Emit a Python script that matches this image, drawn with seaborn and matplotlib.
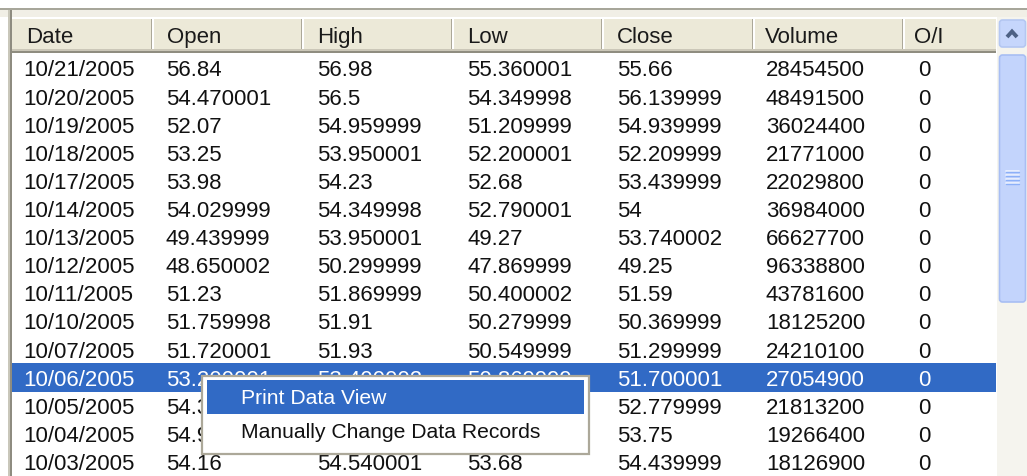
import matplotlib
matplotlib.use("Agg")
import matplotlib.pyplot as plt
from matplotlib.patches import Rectangle, FancyBboxPatch
import seaborn as sns

# ---- data ----
columns = ["Date", "Open", "High", "Low", "Close", "Volume", "O/I"]
dates = ["10/21/2005", "10/20/2005", "10/19/2005", "10/18/2005", "10/17/2005",
         "10/14/2005", "10/13/2005", "10/12/2005", "10/11/2005", "10/10/2005",
         "10/07/2005", "10/06/2005", "10/05/2005", "10/04/2005", "10/03/2005"]
opens = [56.84, 54.470001, 52.07, 53.25, 53.98, 54.029999, 49.439999, 48.650002,
         51.23, 51.759998, 51.720001, 53.200001, 54.389999, 54.959999, 54.16]
highs = [56.98, 56.5, 54.959999, 53.950001, 54.23, 54.349998, 53.950001, 50.299999,
         51.869999, 51.91, 51.93, 53.400002, 54.66, 54.98, 54.540001]
lows = [55.360001, 54.349998, 51.209999, 52.200001, 52.68, 52.790001, 49.27, 47.869999,
        50.400002, 50.279999, 50.549999, 50.869999, 52.68, 53.290001, 53.68]
closes = [55.66, 56.139999, 54.939999, 52.209999, 53.439999, 54, 53.740002, 49.25,
          51.59, 50.369999, 51.299999, 51.700001, 52.779999, 53.75, 54.439999]
volumes = [28454500, 48491500, 36024400, 21771000, 22029800, 36984000, 66627700,
           96338800, 43781600, 18125200, 24210100, 27054900, 21813200, 19266400, 18126900]
open_interest = [0, 0, 0, 0, 0, 0, 0, 0, 0, 0, 0, 0, 0, 0, 0]
selected_row = 11
menu_items = ["Print Data View", "Manually Change Data Records"]

sns.set_theme(style="white")
plt.rcParams["font.family"] = ["Liberation Sans", "DejaVu Sans"]

W, H = 1027, 476
fig = plt.figure(figsize=(W / 100, H / 100), dpi=100)
ax = fig.add_axes([0, 0, 1, 1])
ax.set_xlim(0, W)
ax.set_ylim(H, 0)
ax.axis("off")
fig.patch.set_facecolor("white")

FS = 16
MFS = 15.2
col_x = [23, 166, 317, 467, 617, 766, 918]
head_x = [26, 167, 317, 467, 617, 765, 914]
sep_x = [152, 302, 452, 602, 753, 903]
row0, pitch = 68.0, 28.1
list_right = 996

# top frame
ax.add_patch(Rectangle((0, 8), W, 2, color="#A7A69A", lw=0))
ax.add_patch(Rectangle((0, 10), W, 7, color="#F1EFE6", lw=0))
# left border
ax.add_patch(Rectangle((8, 10), 2, H, color="#C9C7BA", lw=0))
ax.add_patch(Rectangle((10, 10), 2, H, color="#8E8C80", lw=0))

# header
ax.add_patch(Rectangle((12, 17), list_right - 12, 34, color="#ECE9D8", lw=0))
ax.add_patch(Rectangle((12, 17), list_right - 12, 1.5, color="#FFFFFF", lw=0))
ax.add_patch(Rectangle((12, 49), list_right - 12, 1.5, color="#CBC7B8", lw=0))
ax.add_patch(Rectangle((12, 50.5), list_right - 12, 2, color="#8F8D80", lw=0))
for sx in sep_x:
    ax.add_patch(Rectangle((sx - 1.5, 19), 1.5, 30, color="#ACA899", lw=0))
    ax.add_patch(Rectangle((sx, 19), 1.5, 30, color="#FFFFFF", lw=0))
for name, x in zip(columns, head_x):
    ax.text(x, 43, name, fontsize=FS, color="#1A1A1A", va="baseline", ha="left")

# selected row highlight
ycen = row0 + selected_row * pitch
ax.add_patch(Rectangle((12, ycen - 14.5), list_right - 12, 29, color="#316AC5", lw=0))

# rows
for i in range(len(dates)):
    yb = row0 + i * pitch + 8.5
    color = "white" if i == selected_row else "#111111"
    vals = [dates[i], format(opens[i], ".9g"), format(highs[i], ".9g"),
            format(lows[i], ".9g"), format(closes[i], ".9g"),
            str(volumes[i]), str(open_interest[i])]
    for v, x in zip(vals, col_x):
        ax.text(x, yb, v, fontsize=FS, color=color, va="baseline", ha="left", zorder=3)

# scrollbar
ax.add_patch(Rectangle((997, 17), W - 997, H, color="#F5F4EE", lw=0, zorder=4))
ax.add_patch(FancyBboxPatch((999.5, 20), 26, 27, boxstyle="round,pad=0,rounding_size=3",
                            fc="#C6D6FC", ec="#B4C7F2", lw=1.2, zorder=5))
ax.plot([1007, 1012, 1017], [37, 31.5, 37], color="#4D6185", lw=2.8,
        solid_capstyle="butt", solid_joinstyle="miter", zorder=6)
ax.add_patch(FancyBboxPatch((999.5, 55), 26, 247, boxstyle="round,pad=0,rounding_size=3",
                            fc="#C3D4FC", ec="#A8BEF3", lw=1.2, zorder=5))
for gy in [171, 175, 179, 183]:
    ax.plot([1006, 1019], [gy, gy], color="#EEF3FF", lw=1.2, zorder=6)
    ax.plot([1006, 1019], [gy + 1.3, gy + 1.3], color="#8CB0F8", lw=1.0, zorder=6)

# context menu
mx0, mx1, my0, my1 = 202, 589, 376, 454
ax.add_patch(Rectangle((mx0, my0), mx1 - mx0, my1 - my0, fc="white", ec="#ACA899", lw=1.6, zorder=8))
ax.add_patch(Rectangle((mx0 + 5, 380), 584 - mx0 - 5, 34, color="#316AC5", lw=0, zorder=9))
ax.text(241, 404, menu_items[0], fontsize=MFS, color="white", va="baseline", ha="left", zorder=10)
ax.text(241, 438, menu_items[1], fontsize=MFS, color="#111111", va="baseline", ha="left", zorder=10)

fig.savefig("out.png", dpi=100, facecolor="white")
